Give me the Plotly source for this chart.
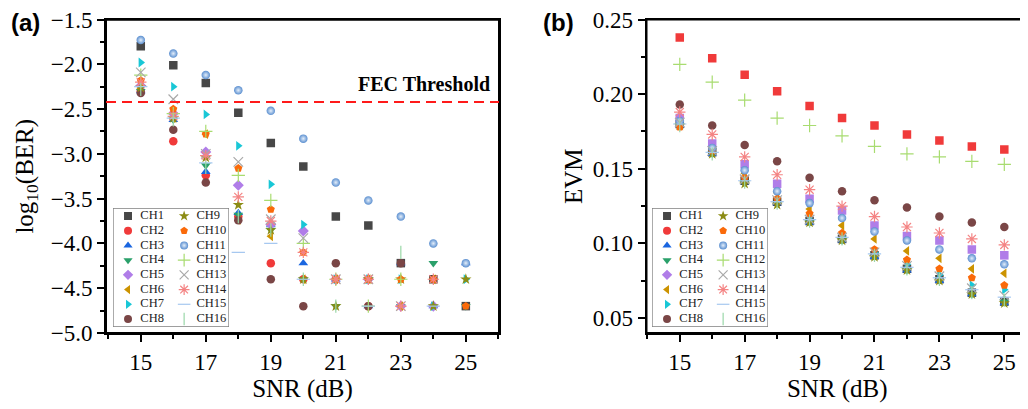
import plotly.graph_objects as go

# ---------------- data ----------------
SNR_DB = [15, 16, 17, 18, 19, 20, 21, 22, 23, 24, 25]
CHANNELS = ["CH1", "CH2", "CH3", "CH4", "CH5", "CH6", "CH7", "CH8",
            "CH9", "CH10", "CH11", "CH12", "CH13", "CH14", "CH15", "CH16"]
FEC_THRESHOLD = -2.42

# log10(BER) per channel (None = error free, not plotted)
BER_CH1 = [-1.80, -2.01, -2.21, -2.54, -2.88, -3.14, -3.70, -3.80, -4.22, -4.40, -4.70]
BER_CH2 = [-2.30, -2.86, -3.24, -3.70, -4.22, -4.40, -4.40, -4.70, None, None, None]
BER_CH3 = [-2.30, -2.62, -3.20, -3.66, -3.79, -4.22, -4.40, -4.70, -4.22, -4.70, -4.22]
BER_CH4 = [-2.30, -2.62, -3.13, -3.68, -3.85, -4.40, -4.70, -4.40, -4.70, -4.22, -4.70]
BER_CH5 = [-2.24, -2.55, -2.98, -3.35, -3.79, -3.86, -4.40, -4.40, -4.70, -4.70, None]
BER_CH6 = [-2.27, -2.60, -2.78, -3.74, -3.92, -4.40, -4.40, -4.40, -4.70, -4.40, None]
BER_CH7 = [-1.98, -2.25, -2.56, -2.91, -3.34, -3.79, -4.40, -4.40, -4.40, -4.70, -4.40]
BER_CH8 = [-2.32, -2.73, -3.32, -3.74, -4.40, -4.70, -4.22, -4.70, -4.22, None, None]
BER_CH9 = [-2.26, -2.60, -3.04, -3.57, -3.85, -4.40, -4.70, -4.40, -4.40, -4.70, -4.40]
BER_CH10 = [-2.18, -2.50, -2.78, -3.16, -3.62, -4.10, -4.40, -4.40, -4.40, -4.40, -4.70]
BER_CH11 = [-1.73, -1.88, -2.12, -2.29, -2.52, -2.83, -3.32, -3.52, -3.70, -4.00, -4.22]
BER_CH12 = [-2.12, -2.55, -2.75, -3.24, -3.52, -4.00, -4.40, -4.70, -4.40, None, None]
BER_CH13 = [-2.09, -2.39, -3.00, -3.09, -3.73, -3.94, -4.40, -4.40, -4.70, None, None]
BER_CH14 = [-2.20, -2.58, -3.02, -3.48, -3.75, -4.10, -4.40, -4.40, -4.70, -4.40, None]
BER_CH15 = [-2.25, -2.60, -3.10, -4.10, -4.00, -4.40, None, -4.70, None, -4.70, None]
BER_CH16 = [-2.28, -2.62, -3.15, -3.70, -3.85, -4.40, -4.70, None, -4.10, None, None]

# EVM per channel
EVM_CH1 = [0.180, 0.161, 0.142, 0.128, 0.115, 0.103, 0.092, 0.083, 0.076, 0.067, 0.061]
EVM_CH2 = [0.238, 0.224, 0.213, 0.202, 0.192, 0.184, 0.179, 0.173, 0.169, 0.165, 0.163]
EVM_CH3 = [0.179, 0.160, 0.141, 0.127, 0.114, 0.102, 0.091, 0.082, 0.075, 0.066, 0.060]
EVM_CH4 = [0.179, 0.160, 0.141, 0.127, 0.114, 0.102, 0.091, 0.082, 0.075, 0.066, 0.061]
EVM_CH5 = [0.184, 0.167, 0.153, 0.140, 0.130, 0.122, 0.112, 0.105, 0.102, 0.096, 0.092]
EVM_CH6 = [0.181, 0.163, 0.147, 0.134, 0.123, 0.112, 0.103, 0.095, 0.090, 0.083, 0.080]
EVM_CH7 = [0.180, 0.161, 0.142, 0.128, 0.116, 0.105, 0.094, 0.086, 0.079, 0.072, 0.069]
EVM_CH8 = [0.193, 0.179, 0.166, 0.155, 0.144, 0.135, 0.129, 0.124, 0.118, 0.114, 0.111]
EVM_CH9 = [0.179, 0.160, 0.140, 0.126, 0.114, 0.102, 0.091, 0.082, 0.075, 0.066, 0.060]
EVM_CH10 = [0.178, 0.162, 0.144, 0.130, 0.120, 0.107, 0.096, 0.089, 0.083, 0.077, 0.072]
EVM_CH11 = [0.182, 0.164, 0.149, 0.135, 0.127, 0.117, 0.108, 0.102, 0.096, 0.090, 0.086]
EVM_CH12 = [0.220, 0.208, 0.196, 0.184, 0.179, 0.172, 0.165, 0.160, 0.158, 0.155, 0.153]
EVM_CH13 = [0.181, 0.162, 0.143, 0.129, 0.116, 0.104, 0.094, 0.085, 0.078, 0.070, 0.065]
EVM_CH14 = [0.188, 0.173, 0.158, 0.146, 0.136, 0.125, 0.118, 0.111, 0.107, 0.103, 0.099]
EVM_CH15 = [0.180, 0.161, 0.142, 0.128, 0.116, 0.104, 0.093, 0.084, 0.077, 0.069, 0.064]
EVM_CH16 = [0.179, 0.160, 0.141, 0.127, 0.115, 0.103, 0.092, 0.083, 0.076, 0.067, 0.062]

LOG_BER = [BER_CH1, BER_CH2, BER_CH3, BER_CH4, BER_CH5, BER_CH6, BER_CH7, BER_CH8,
           BER_CH9, BER_CH10, BER_CH11, BER_CH12, BER_CH13, BER_CH14, BER_CH15, BER_CH16]
EVM = [EVM_CH1, EVM_CH2, EVM_CH3, EVM_CH4, EVM_CH5, EVM_CH6, EVM_CH7, EVM_CH8,
       EVM_CH9, EVM_CH10, EVM_CH11, EVM_CH12, EVM_CH13, EVM_CH14, EVM_CH15, EVM_CH16]

# axis ranges
X_RANGE_A = [13.93, 26.02]
Y_RANGE_A = [-5.0, -1.5]
X_RANGE_B = [13.975, 25.73]
Y_RANGE_B = [0.04, 0.25]
LEG_X_RANGE = [-0.268, 1.80]
LEG_Y_RANGE = [7.544, -0.544]

# ---------------- styles ----------------
COLORS = ["#474747", "#f03a3a", "#1a66e0", "#2aa06a", "#b07de8", "#cc9300",
          "#19c7d6", "#7a4646", "#8c8c14", "#fa6a0a", "#5b8fd0", "#a8dc70",
          "#a9a9a9", "#f48484", "#a6c8f0", "#9ad8a8"]
SYMBOLS = ["square", "circle", "triangle-up", "triangle-down", "diamond",
           "triangle-left", "triangle-right", "circle", "star", "pentagon",
           "circle", "cross-thin", "x-thin", "asterisk", "line-ew", "line-ns"]
SYMBOLS_B = list(SYMBOLS)
SYMBOLS_B[1] = "square"
SYMBOLS_B[4] = "square"
THIN = {"cross-thin", "x-thin", "asterisk", "line-ew", "line-ns"}

SERIF = "Liberation Serif"
SANS = "Liberation Sans"
PAGE_OFFSET = 8          # default body margin of the written page
W, H = 1028 - PAGE_OFFSET, 409 - PAGE_OFFSET


def marker(i, sym, size=8.5):
    m = dict(symbol=sym, color=COLORS[i], size=size, line=dict(width=0))
    if sym in THIN:
        m["size"] = size + 1
        m["line"] = dict(width=1.2, color=COLORS[i])
    if i == 10:
        m["gradient"] = dict(type="radial", color="#e3eefa")
    return m


def px_x(p):
    return (p - PAGE_OFFSET) / W


def px_y(p):
    return 1 - (p - PAGE_OFFSET) / H


fig = go.Figure()


def frame_trace(xa, ya, xr, yr, color, width, closed=True):
    if closed:
        xs = [xr[0], xr[1], xr[1], xr[0], xr[0]]
        ys = [yr[0], yr[0], yr[1], yr[1], yr[0]]
    else:  # open on the right side
        xs = [xr[1], xr[0], xr[0], xr[1]]
        ys = [yr[0], yr[0], yr[1], yr[1]]
    fig.add_trace(go.Scatter(x=xs, y=ys, mode="lines", xaxis=xa, yaxis=ya,
                             line=dict(color=color, width=width),
                             showlegend=False, hoverinfo="skip", cliponaxis=False))


# plot frames as line traces
frame_trace("x", "y", X_RANGE_A, Y_RANGE_A, "black", 2)
frame_trace("x2", "y2", X_RANGE_B, Y_RANGE_B, "black", 2, closed=False)

# data traces
for i, name in enumerate(CHANNELS):
    fig.add_trace(go.Scatter(x=SNR_DB, y=LOG_BER[i], mode="markers", name=name,
                             marker=marker(i, SYMBOLS[i]), xaxis="x", yaxis="y",
                             showlegend=False))
for i, name in enumerate(CHANNELS):
    fig.add_trace(go.Scatter(x=SNR_DB, y=EVM[i], mode="markers", name=name,
                             marker=marker(i, SYMBOLS_B[i]), xaxis="x2", yaxis="y2",
                             showlegend=False))

# legend blocks (two columns of 8) drawn on auxiliary axes
TEXT_SHIFT = 0.22
for xa, ya in (("x5", "y5"), ("x6", "y6")):
    frame_trace(xa, ya, LEG_X_RANGE, LEG_Y_RANGE, "#7f7f7f", 1.3)
    for i, name in enumerate(CHANNELS):
        col, row = i // 8, i % 8
        fig.add_trace(go.Scatter(x=[col], y=[row], mode="markers",
                                 marker=marker(i, SYMBOLS[i], size=8),
                                 xaxis=xa, yaxis=ya, showlegend=False,
                                 hoverinfo="skip"))
        fig.add_trace(go.Scatter(x=[col + TEXT_SHIFT], y=[row], mode="text",
                                 text=[name], textposition="middle right",
                                 textfont=dict(family=SERIF, size=12.5, color="#222"),
                                 xaxis=xa, yaxis=ya, showlegend=False,
                                 hoverinfo="skip", cliponaxis=False))

XDOM_A = [px_x(106), px_x(499)]
XDOM_B = [px_x(646.5), 1.0]
YDOM = [px_y(333), px_y(19.5)]
axis_common = dict(showline=True, linecolor="black", linewidth=2, mirror=True,
                   showgrid=False, zeroline=False,
                   ticks="outside", ticklen=7, tickwidth=2,
                   tickcolor="black", automargin=False, ticklabeloverflow="allow",
                   tickfont=dict(family=SERIF, size=23, color="black"))
title_font = dict(family=SERIF, size=25, color="black")
minor_common = dict(ticks="outside", ticklen=4, tickwidth=2, tickcolor="black")

aux = dict(showline=False, showgrid=False, zeroline=False, showticklabels=False,
           ticks="", fixedrange=True, automargin=False)

fig.update_layout(
    width=W, height=H, margin=dict(l=0, r=0, t=0, b=0),
    paper_bgcolor="white", plot_bgcolor="white", showlegend=False,
    xaxis=dict(axis_common, domain=XDOM_A, range=X_RANGE_A,
               tick0=15, dtick=2, anchor="y", minor=dict(minor_common, dtick=1),
               title=dict(text="SNR (dB)", font=title_font, standoff=1)),
    yaxis=dict(axis_common, domain=YDOM, range=Y_RANGE_A, tick0=-5, dtick=0.5,
               tickformat=".1f", anchor="x", minor=dict(minor_common, dtick=0.25),
               title=dict(text="log<sub>10</sub>(BER)", font=title_font, standoff=10)),
    xaxis2=dict(axis_common, domain=XDOM_B, range=X_RANGE_B,
                tick0=15, dtick=2, anchor="y2", minor=dict(minor_common, dtick=1),
                title=dict(text="SNR (dB)", font=title_font, standoff=1)),
    yaxis2=dict(axis_common, domain=YDOM, range=Y_RANGE_B, tick0=0.05, dtick=0.05,
                tickformat=".2f", anchor="x2", mirror=False,
                minor=dict(minor_common, dtick=0.025),
                title=dict(text="EVM", font=title_font, standoff=3)),
    xaxis5=dict(aux, domain=[px_x(113), px_x(229)], range=LEG_X_RANGE, anchor="y5"),
    yaxis5=dict(aux, domain=[px_y(327), px_y(208)], range=LEG_Y_RANGE, anchor="x5"),
    xaxis6=dict(aux, domain=[px_x(652), px_x(768)], range=LEG_X_RANGE, anchor="y6"),
    yaxis6=dict(aux, domain=[px_y(327), px_y(208)], range=LEG_Y_RANGE, anchor="x6"),
)

# additional frame in paper coordinates
fig.add_shape(type="rect", xref="paper", yref="paper", x0=XDOM_A[0], x1=XDOM_A[1],
              y0=YDOM[0], y1=YDOM[1], line=dict(color="black", width=2),
              fillcolor="rgba(0,0,0,0)", layer="above")

# FEC threshold line
fig.add_shape(type="line", xref="x", x0=X_RANGE_A[0], x1=X_RANGE_A[1], yref="y",
              y0=FEC_THRESHOLD, y1=FEC_THRESHOLD,
              line=dict(color="#ff1a1a", width=2, dash="10px,6px"))
fig.add_annotation(text="<b>FEC Threshold</b>", xref="x domain", x=0.982, xanchor="right",
                   yref="y", y=FEC_THRESHOLD + 0.2, yanchor="middle", showarrow=False,
                   font=dict(family=SERIF, size=20, color="black"))

# panel labels
fig.add_annotation(text="<b>(a)</b>", xref="paper", yref="paper", x=px_x(25), y=px_y(22),
                   xanchor="center", yanchor="middle", showarrow=False,
                   font=dict(family=SANS, size=24, color="black"))
fig.add_annotation(text="<b>(b)</b>", xref="paper", yref="paper", x=px_x(558), y=px_y(22),
                   xanchor="center", yanchor="middle", showarrow=False,
                   font=dict(family=SANS, size=24, color="black"))

fig.write_html("out.html")
